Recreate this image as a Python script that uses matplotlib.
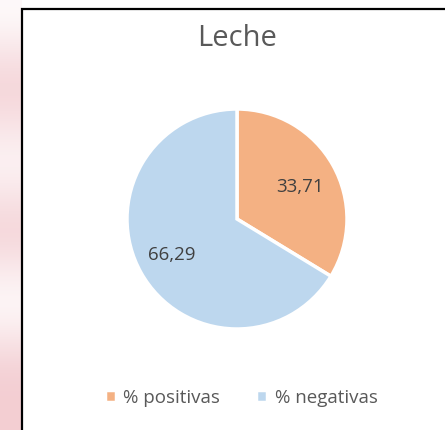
import matplotlib.pyplot as plt
import matplotlib.patches as mpatches
import numpy as np

title = 'Leche'
labels = ['% positivas', '% negativas']
values = [33.71, 66.29]
value_text = ['33,71', '66,29']
colors = ['#F4B183', '#BDD7EE']

plt.rcParams['font.family'] = ['Open Sans', 'DejaVu Sans']

fig = plt.figure(figsize=(4.45, 4.3), dpi=100)
fig.patch.set_facecolor('white')

# pink slide background on the left edge
bg = fig.add_axes([0, 0, 22 / 445, 1])
shade = np.array([0.1, 0.5, 0.8, 0.5, 0.2, 0.5, 0.8, 0.4, 0.1, 0.5, 0.9, 0.9]).reshape(-1, 1)
bg.imshow(shade, aspect='auto', cmap=plt.matplotlib.colors.LinearSegmentedColormap.from_list(
    'pk', ['#FFFFFF', '#F2C9CE']), vmin=0, vmax=1, interpolation='bicubic')
bg.axis('off')

# chart frame
fig.patches.append(mpatches.Rectangle((22 / 445, -0.05), 1.0, (430 - 9) / 430 + 0.05,
                                      transform=fig.transFigure, fill=False,
                                      edgecolor='black', linewidth=1.6))

ax = fig.add_axes([(237 - 110) / 445, (430 - 219 - 110) / 430, 220 / 445, 220 / 430])
wedges, _ = ax.pie(values, colors=colors, startangle=90, counterclock=False,
                   wedgeprops=dict(edgecolor='white', linewidth=2.5))
ax.set_xlim(-1, 1)
ax.set_ylim(-1, 1)
ax.set_aspect('equal')

ax.text(0.57, 0.29, value_text[0], ha='center', va='center', fontsize=13.5, color='#404040')
ax.text(-0.59, -0.33, value_text[1], ha='center', va='center', fontsize=13.5, color='#404040')

fig.text(237 / 445, 1 - 38 / 430, title, ha='center', va='center', fontsize=21,
         color='#595959')

fig.legend(wedges, labels, loc='center', bbox_to_anchor=(241 / 445, 1 - 398 / 430),
           ncol=2, frameon=False, fontsize=13.5, labelcolor='#595959',
           handlelength=0.6, handleheight=0.6, handletextpad=0.4, columnspacing=1.9)

fig.savefig('out.png', dpi=100)
